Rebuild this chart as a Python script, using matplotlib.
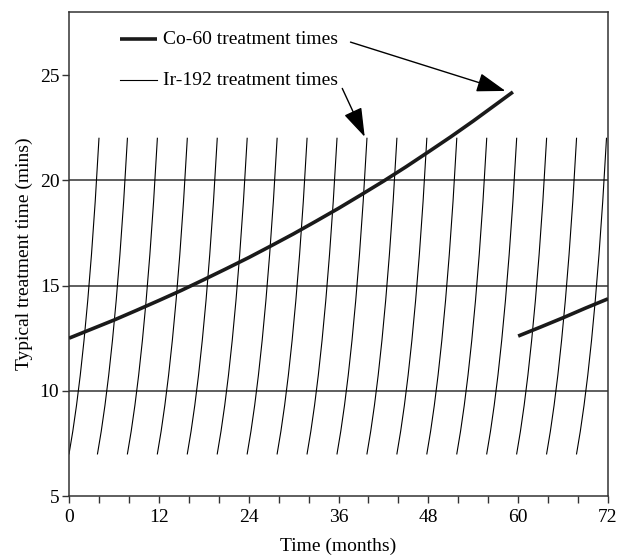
import numpy as np
import matplotlib.pyplot as plt

# Co-60 treatment time (mins), source changed at 60 months
co_t1 = [0, 3, 6, 9, 12, 15, 18, 21, 24, 27, 30, 33, 36, 39, 42, 45, 48,
         51, 54, 57, 59.3]
co_y1 = [12.5, 12.93, 13.36, 13.82, 14.29, 14.77, 15.28, 15.8, 16.33, 16.89,
         17.46, 18.06, 18.67, 19.31, 19.96, 20.64, 21.35, 22.07, 22.82, 23.6,
         24.2]
co_t2 = [60, 63, 66, 69, 72]
co_y2 = [12.6, 13.03, 13.47, 13.93, 14.37]

# Ir-192: one curve shape (months after source change -> mins), repeated
ir_dt = [0, 0.5, 1.0, 1.5, 2.0, 2.5, 3.0, 3.5, 4.0]
ir_y = [7.0, 8.07, 9.31, 10.74, 12.39, 14.29, 16.48, 19.01, 22.0]
ir_start = [0, 3.8, 7.8, 11.8, 15.8, 19.8, 23.8, 27.8, 31.8, 35.8,
            39.8, 43.8, 47.8, 51.8, 55.8, 59.8, 63.8, 67.8]

xticks = np.arange(0, 73, 4)
xlabels = [str(v) if v % 12 == 0 else "" for v in xticks]
yticks = [5, 10, 15, 20, 25]
grid_y = [10, 15, 20]

plt.rcParams['font.family'] = ['Liberation Serif', 'DejaVu Serif']
plt.rcParams['font.size'] = 14

fig = plt.figure(figsize=(6.18, 5.59), dpi=100)
ax = fig.add_axes([0.1117, 0.1127, 0.8721, 0.8658])

for g in grid_y:
    ax.axhline(g, color="#333333", lw=1.1, zorder=1)

for s in ir_start:
    ax.plot(np.array(ir_dt) + s, ir_y, color="black", lw=0.8, zorder=2)

ax.plot(co_t1, co_y1, color="#1a1a1a", lw=2.6, zorder=3, solid_capstyle="butt")
ax.plot(co_t2, co_y2, color="#1a1a1a", lw=2.6, zorder=3, solid_capstyle="butt")

ax.set_xlim(0, 72)
ax.set_ylim(5, 28)
ax.set_xticks(xticks)
ax.set_xticklabels(xlabels)
ax.set_yticks(yticks)
ax.tick_params(direction="out", length=5, width=1, color="#333333",
               labelsize=14, pad=2)
ax.tick_params(axis="x", pad=4)
for sp in ax.spines.values():
    sp.set_color("#333333")
    sp.set_linewidth(1.1)

ax.set_xlabel("Time (months)", fontsize=14, labelpad=9)
ax.set_ylabel("Typical treatment time (mins)", fontsize=14, labelpad=5)

# legend drawn by hand
ax.plot([0.0946, 0.163], [0.944, 0.944], transform=ax.transAxes,
        color="#1a1a1a", lw=2.6, solid_capstyle="butt")
ax.plot([0.0946, 0.163], [0.8595, 0.8595], transform=ax.transAxes,
        color="black", lw=0.8)
ax.text(0.1744, 0.944, "Co-60 treatment times", transform=ax.transAxes,
        va="center", ha="left")
ax.text(0.1744, 0.8595, "Ir-192 treatment times", transform=ax.transAxes,
        va="center", ha="left")

arrow = dict(arrowstyle="-|>,head_length=1.0,head_width=0.33", color="black",
             lw=1.0, shrinkA=0, shrinkB=0, mutation_scale=18)
ax.annotate("", xy=(58.3, 24.25), xytext=(37.6, 26.57), arrowprops=arrow)
ax.annotate("", xy=(39.5, 22.07), xytext=(36.5, 24.37), arrowprops=arrow)

fig.savefig("out.png", dpi=100)
